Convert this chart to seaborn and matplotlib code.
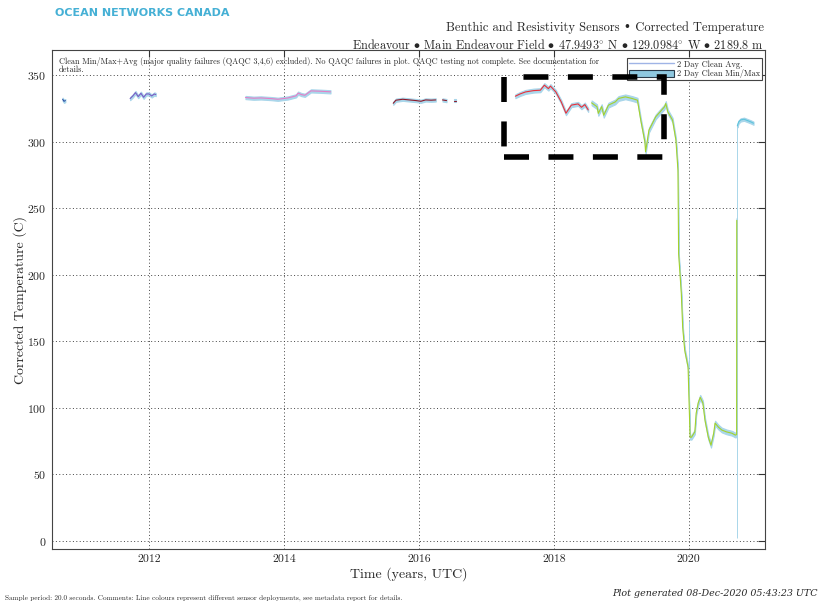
import numpy as np
import pandas as pd
import matplotlib
matplotlib.use('Agg')
import matplotlib.pyplot as plt
import seaborn as sns
from matplotlib.patches import Rectangle, Patch
from matplotlib.lines import Line2D

# 2 day averages per sensor deployment (decimal years, deg C); nan = gap
t_d1 = [2010.72, 2010.74, 2010.76]
v_d1 = [332.0, 330.5, 331.0]

t_d2 = [2011.72, 2011.76, 2011.80, 2011.84, 2011.88, 2011.92, 2011.96, 2012.00, 2012.04, 2012.08, 2012.10]
v_d2 = [332.5, 334.5, 337.0, 334.0, 336.5, 333.5, 336.0, 336.0, 334.5, 336.0, 335.5]

t_d3 = [2013.43, 2013.55, 2013.66, 2013.81, 2013.91, 2014.06, 2014.18, 2014.21, 2014.26, 2014.31, 2014.40, 2014.55, 2014.69]
v_d3 = [333.3, 332.8, 333.0, 332.5, 332.0, 333.0, 334.6, 336.6, 335.5, 335.0, 338.3, 338.0, 337.6]

t_d4 = [2015.62, 2015.66, 2015.76, 2015.86, 2015.96, 2016.03, 2016.10, 2016.18, 2016.25, np.nan,
        2016.35, 2016.41, np.nan, 2016.52, 2016.55]
v_d4 = [329.0, 331.3, 332.0, 331.5, 331.0, 330.5, 331.5, 331.3, 331.5, np.nan,
        331.5, 331.0, np.nan, 331.0, 331.0]

t_d5 = [2017.43, 2017.50, 2017.58, 2017.70, 2017.80, 2017.86, 2017.92, 2017.95, 2018.03, 2018.11,
        2018.18, 2018.26, 2018.36, 2018.41, 2018.46, 2018.51]
v_d5 = [334.3, 336.0, 337.5, 338.5, 338.8, 342.6, 340.0, 341.9, 337.5, 330.0,
        321.5, 327.6, 328.5, 326.0, 328.0, 324.0]

t_d6 = [2018.56, 2018.64, 2018.66, 2018.71, 2018.74, 2018.81, 2018.91, 2018.96, 2019.06, 2019.16,
        2019.24, 2019.29, 2019.35, 2019.36, 2019.41, 2019.51, 2019.64, 2019.66, 2019.69, 2019.76,
        2019.81, 2019.84, 2019.85, 2019.89, 2019.91, 2019.94, 2019.99, 2020.02, 2020.04, 2020.09,
        2020.11, 2020.14, 2020.17, 2020.21, 2020.24, 2020.29, 2020.33, 2020.37, 2020.39, 2020.44,
        2020.49, 2020.56, 2020.64, 2020.69, 2020.71, 2020.712]
v_d6 = [329.3, 326.4, 321.4, 326.5, 320.0, 327.6, 330.0, 332.6, 333.8, 332.6,
        331.3, 316.0, 300.0, 292.5, 308.8, 318.8, 326.3, 328.8, 322.5, 316.3,
        301.3, 278.7, 216.0, 186.0, 160.8, 143.5, 130.7, 78.0, 78.0, 82.0,
        96.0, 103.7, 108.0, 103.7, 91.0, 78.0, 72.0, 81.0, 88.6, 85.6,
        83.4, 82.0, 81.0, 79.6, 80.0, 241.0]

t_d7 = [2020.72, 2020.74, 2020.77, 2020.82, 2020.87, 2020.92, 2020.96]
v_d7 = [312.0, 315.0, 316.5, 317.0, 316.0, 315.0, 314.0]

# half width of the min/max envelope per deployment
spread = [1.2, 1.2, 1.2, 1.2, 1.5, 1.8, 1.2]
colors = ['#2b4fa3', '#7a5cc4', '#e47fc7', '#8b1a2b', '#e8303a', '#a4d22c', '#5ec4dc']

# isolated min/max excursions
spike_t = [2020.0, 2020.715]
spike_lo = [130.0, 2.0]
spike_hi = [165.0, 312.0]

frames = []
series = [(t_d1, v_d1), (t_d2, v_d2), (t_d3, v_d3), (t_d4, v_d4), (t_d5, v_d5), (t_d6, v_d6), (t_d7, v_d7)]
for i, (t, v) in enumerate(series):
    d = pd.DataFrame({'t': t, 'avg': v})
    d['piece'] = i * 100 + d['t'].isna().cumsum()
    d['dep'] = 'd%d' % (i + 1)
    d['lo'] = d['avg'] - spread[i]
    d['hi'] = d['avg'] + spread[i]
    frames.append(d.dropna())
df = pd.concat(frames, ignore_index=True)
palette = {'d%d' % (i + 1): c for i, c in enumerate(colors)}

sns.set_theme(style='white')
plt.rcParams['font.family'] = ['cmr10', 'DejaVu Serif']
plt.rcParams['axes.formatter.use_mathtext'] = True
plt.rcParams['mathtext.fontset'] = 'cm'

fig = plt.figure(figsize=(8.23, 6.05), dpi=100)
ax = fig.add_axes([0.063, 0.0926, 0.8665, 0.8247])

band = '#a9d6ea'
for p, g in df.groupby('piece'):
    ax.fill_between(g['t'], g['lo'], g['hi'], color=band, lw=0.8, edgecolor=band, zorder=1)
ax.vlines(spike_t, spike_lo, spike_hi, color=band, lw=0.7, zorder=1)

sns.lineplot(data=df, x='t', y='avg', hue='dep', units='piece', estimator=None, sort=False,
             palette=palette, lw=0.8, legend=False, ax=ax, zorder=2)

ax.set_xlim(2010.56, 2021.13)
ax.set_ylim(-6, 369)
ax.set_xticks([2012, 2014, 2016, 2018, 2020])
ax.set_xticklabels(['2012', '2014', '2016', '2018', '2020'])
ax.set_yticks(range(0, 351, 50))
ax.grid(True, ls=(0, (1, 2.5)), color='#444444', lw=0.7)
ax.tick_params(direction='in', length=5, width=0.8, top=True, right=True, labelsize=8.5,
               color='#333333', pad=4)
for s in ax.spines.values():
    s.set_color('#444444')
    s.set_linewidth(0.8)
ax.set_xlabel('Time (years, UTC)', fontsize=10, labelpad=2)
ax.set_ylabel('Corrected Temperature (C)', fontsize=10, labelpad=0)

handles = [Line2D([], [], color='#9fb4e6', lw=1.0),
           Patch(facecolor='#8fc8e0', edgecolor='#2a3a4a', lw=0.8)]
leg = ax.legend(handles, ['2 Day Clean Avg.', '2 Day Clean Min/Max'], loc='upper right',
                bbox_to_anchor=(0.996, 0.984), borderaxespad=0,
                fontsize=6, frameon=True, fancybox=False, framealpha=1, edgecolor='#444444',
                handlelength=5.5, handleheight=0.8, labelspacing=0.1,
                borderpad=0.25, handletextpad=0.3)
leg.get_frame().set_linewidth(0.8)

# highlight box
box_x0, box_x1 = 2017.26, 2019.64
box_y0, box_y1 = 288.5, 348.6
ax.add_patch(Rectangle((box_x0, box_y0), box_x1 - box_x0, box_y1 - box_y0, fill=False,
                       edgecolor='black', lw=4, ls=(0, (4.5, 3.5)), zorder=10, clip_on=False))

ax.text(0.01, 0.987, 'Clean Min/Max+Avg (major quality failures (QAQC 3,4,6) excluded). No QAQC failures in plot. '
        'QAQC testing not complete. See documentation for\ndetails.',
        transform=ax.transAxes, va='top', ha='left', fontsize=5.9, linespacing=1.0)

deg = '$^{\\circ}$'
bul = ' $\\bullet$ '
fig.text(0.067, 0.978, 'OCEAN NETWORKS CANADA', color='#45b0d5', fontweight='bold', fontsize=8,
         family='DejaVu Sans', va='center')
fig.text(0.928, 0.9537, 'Benthic and Resistivity Sensors \u2022 Corrected Temperature',
         ha='right', va='center', fontsize=9)
fig.text(0.928, 0.9256, 'Endeavour' + bul + 'Main Endeavour Field' + bul + '47.9493' + deg + ' N' + bul +
         '129.0984' + deg + ' W' + bul + '2189.8 m', ha='right', va='center', fontsize=8.8)
fig.text(0.006, 0.006, 'Sample period: 20.0 seconds. Comments: Line colours represent different sensor '
         'deployments, see metadata report for details.', fontsize=5.2, va='bottom')
fig.text(0.994, 0.0198, 'Plot generated 08-Dec-2020 05:43:23 UTC', ha='right', va='center',
         fontsize=6.8, style='italic', family='DejaVu Serif')

fig.savefig('out.png', dpi=100)
